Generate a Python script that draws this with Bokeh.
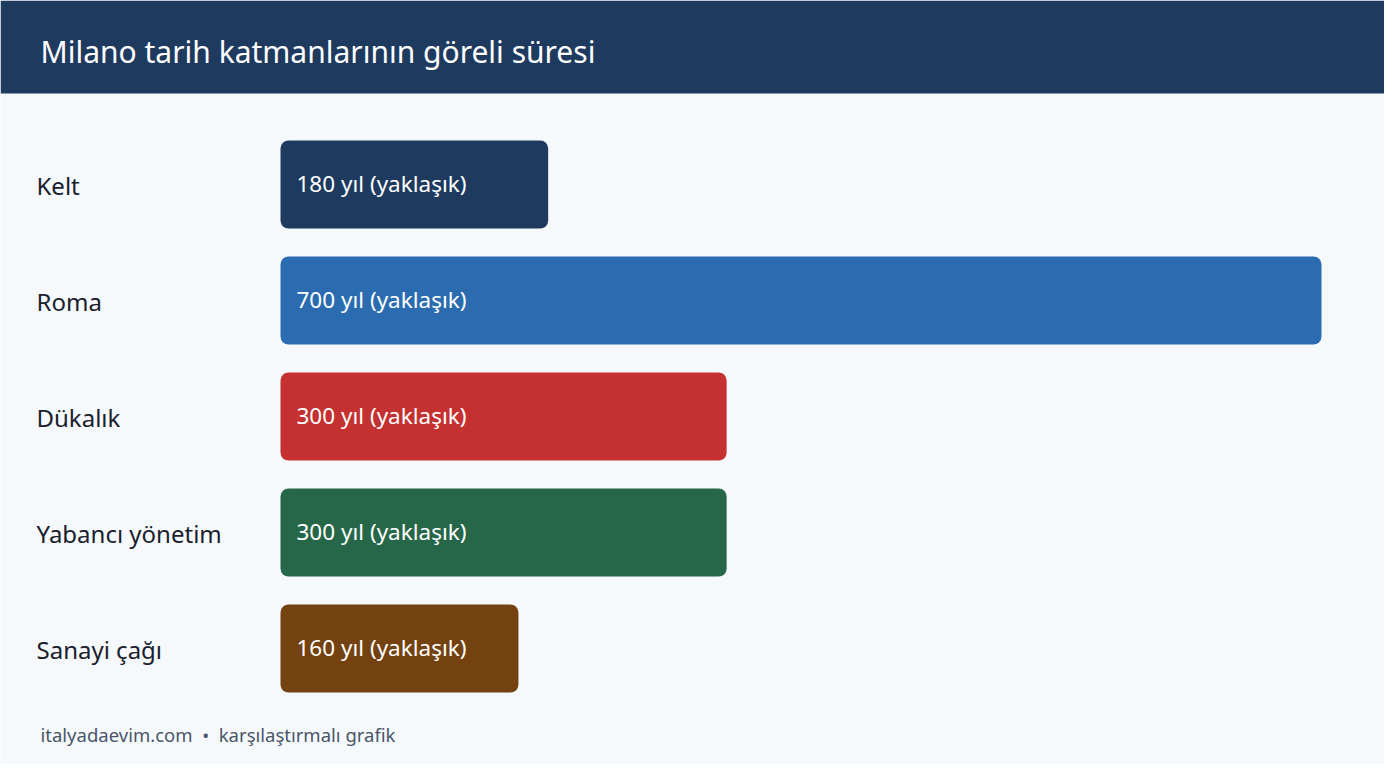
from bokeh.plotting import figure
from bokeh.models import Range1d, ColumnDataSource, BoxAnnotation, Label
from bokeh.core.properties import value
from bokeh.embed import file_html
from bokeh.resources import INLINE

# ---- data ----
categories = ["Kelt", "Roma", "Dükalık", "Yabancı yönetim", "Sanayi çağı"]
years = [180, 700, 300, 300, 160]
value_labels = ["180 yıl (yaklaşık)", "700 yıl (yaklaşık)", "300 yıl (yaklaşık)",
                "300 yıl (yaklaşık)", "160 yıl (yaklaşık)"]
colors = ["#1E3A5F", "#2B6CB0", "#C53030", "#276749", "#744210"]
title_text = "Milano tarih katmanlarının göreli süresi"
footer_text = "italyadaevim.com\u00a0\u00a0•\u00a0\u00a0karşılaştırmalı grafik"

# ---- layout ----
W, H = 1384, 764
BG = "#F5F9FC"
HEADER = "#1E3A5F"
FONT = "Noto Sans"

bar_x0 = 280          # px of zero in figure
px_per_year = 1041 / 700.0
row_pitch = 116.0
row0 = 184.0          # px from top of first row center
bar_h = 88.0

xs = -bar_x0 / px_per_year
xe = (W - bar_x0) / px_per_year
ys_top = -row0 / row_pitch
ys_bot = (H - row0) / row_pitch

idx = list(range(len(categories)))
src = ColumnDataSource(dict(y=idx, cat=categories, years=years,
                            lab=value_labels, color=colors))

p = figure(width=W, height=H, x_range=Range1d(xs, xe), y_range=Range1d(ys_bot, ys_top),
           output_backend="svg", toolbar_location=None, min_border=0,
           x_axis_location=None, y_axis_location=None,
           background_fill_color=BG, border_fill_color=BG, outline_line_color=None)
p.grid.visible = False

# header band
p.add_layout(BoxAnnotation(bottom=H - 93, bottom_units="screen",
                           fill_color=HEADER, fill_alpha=1.0, line_alpha=0))
p.add_layout(Label(x=40, y=H - 51, x_units="screen", y_units="screen", text=title_text,
                   text_font=FONT, text_font_size="30px", text_color="#FFFFFF",
                   text_baseline="alphabetic"))

# bars
p.hbar(y="y", left=0, right="years", height=bar_h / row_pitch, source=src,
       fill_color="color", line_color=None, border_radius=8)

# value labels inside bars
p.text(x=0, y="y", text="lab", source=src, x_offset=16, y_offset=-1,
       text_baseline="alphabetic", text_align="left", text_font=value(FONT),
       text_font_size="22.5px", text_color="#FFFFFF")

# category labels
p.text(x=0, y="y", text="cat", source=src, x_offset=-(bar_x0 - 36), y_offset=1,
       text_baseline="alphabetic", text_align="left", text_font=value(FONT),
       text_font_size="24px", text_color="#1A202C")

# footer
p.add_layout(Label(x=40, y=H - 734, x_units="screen", y_units="screen", text=footer_text,
                   text_font=FONT, text_font_size="18.5px", text_color="#4A5568",
                   text_baseline="alphabetic"))

open("out.html", "w").write(file_html(p, INLINE))
